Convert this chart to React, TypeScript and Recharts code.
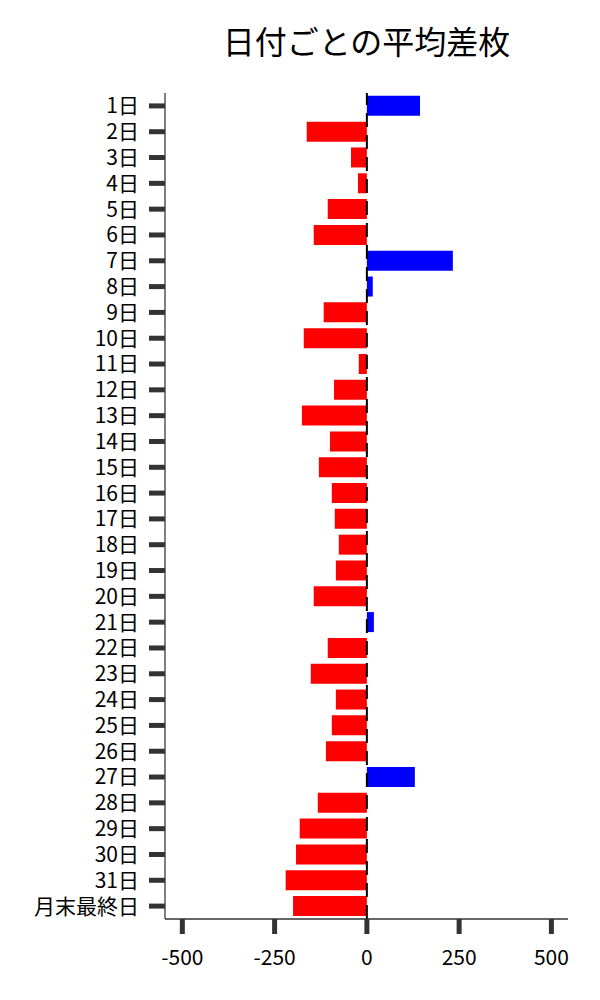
import { BarChart, Bar, XAxis, YAxis, Cell, ReferenceLine } from "recharts";

const days = [
  "1日", "2日", "3日", "4日", "5日", "6日", "7日", "8日", "9日", "10日",
  "11日", "12日", "13日", "14日", "15日", "16日", "17日", "18日", "19日", "20日",
  "21日", "22日", "23日", "24日", "25日", "26日", "27日", "28日", "29日", "30日",
  "31日", "月末最終日",
];

const avgDiff = [
  144, -163, -43, -24, -106, -144, 233, 16, -117, -171,
  -22, -89, -176, -100, -130, -95, -87, -76, -84, -144,
  19, -106, -152, -84, -95, -111, 130, -133, -182, -192,
  -220, -200,
];

const xTicks = [-500, -250, 0, 250, 500];

const FONT = '"Noto Sans CJK JP", "Noto Sans", sans-serif';

const data = days.map((day, i) => ({ day, value: avgDiff[i] }));

export default function App() {
  return (
    <div
      style={{
        position: "absolute",
        left: 0,
        top: 0,
        width: 600,
        height: 1000,
        background: "#fff",
        fontFamily: FONT,
      }}
    >
      <div
        style={{
          position: "absolute",
          left: 165,
          width: 403,
          top: 21,
          textAlign: "center",
          fontSize: 32,
          lineHeight: "38px",
          color: "#000",
        }}
      >
        日付ごとの平均差枚
      </div>
      <BarChart
        width={600}
        height={1000}
        data={data}
        layout="vertical"
        margin={{ top: 93, right: 32, bottom: 41, left: 0 }}
        barCategoryGap="11%"
      >
        <XAxis
          type="number"
          domain={[-547, 545]}
          ticks={xTicks}
          allowDataOverflow
          axisLine={{ stroke: "#333", strokeWidth: 1.5 }}
          tickLine={{ stroke: "#333", strokeWidth: 5 }}
          tickSize={15}
          tickMargin={16}
          height={40}
          tick={{ fill: "#000", fontSize: 21, fontFamily: FONT }}
        />
        <YAxis
          type="category"
          dataKey="day"
          width={165}
          interval={0}
          axisLine={{ stroke: "#000", strokeWidth: 1 }}
          tickLine={{ stroke: "#333", strokeWidth: 5 }}
          tickSize={16}
          tickMargin={10}
          tick={{ fill: "#000", fontSize: 21, fontFamily: FONT }}
        />
        <ReferenceLine x={0} stroke="#000" strokeWidth={2} strokeDasharray="14 8" />
        <Bar dataKey="value" isAnimationActive={false}>
          {data.map((d, i) => (
            <Cell key={i} fill={d.value >= 0 ? "#0000ff" : "#ff0000"} />
          ))}
        </Bar>
      </BarChart>
    </div>
  );
}
